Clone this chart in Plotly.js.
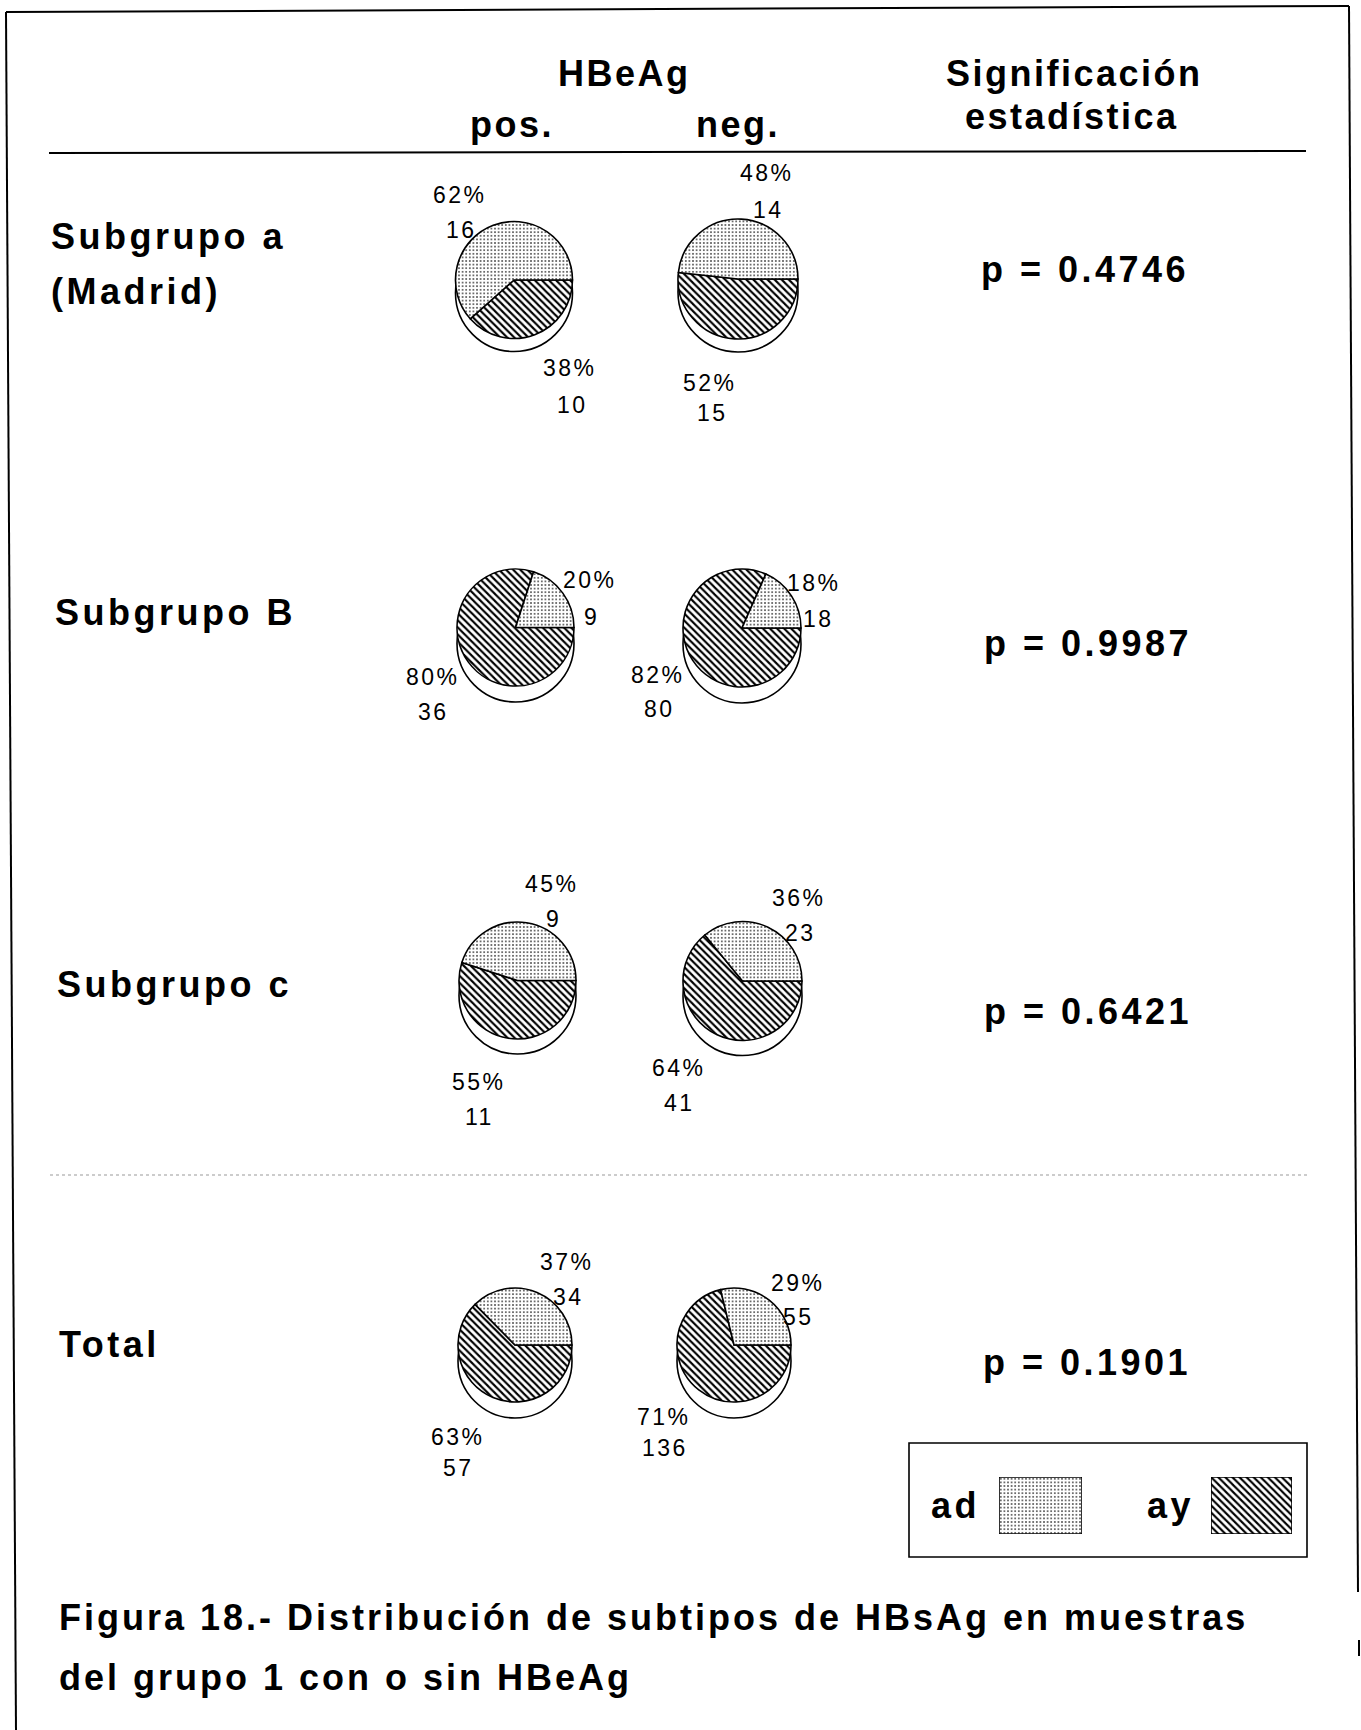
<!DOCTYPE html>
<html>
<head>
<meta charset="utf-8">
<script src="https://cdn.plot.ly/plotly-3.0.1.min.js"></script>
<style>
html,body{margin:0;padding:0;background:#fff;}
#chart{width:1361px;height:1730px;}
</style>
</head>
<body>
<div id="chart"></div>
<script>
// ---------------- DATA ----------------
const groups = ['Subgrupo a', 'Subgrupo B', 'Subgrupo c', 'Total'];
const groupSub = ['(Madrid)', '', '', ''];
const columns = ['pos.', 'neg.'];
const subtypes = ['ad', 'ay'];
const posAd = [16, 9, 9, 34];
const posAy = [10, 36, 11, 57];
const negAd = [14, 18, 23, 55];
const negAy = [15, 80, 41, 136];
const pValues = ['0.4746', '0.9987', '0.6421', '0.1901'];

// ---------------- GEOMETRY (layout only) ----------------
const W = 1361, H = 1730;
const px = x => x / W;
const py = y => 1 - y / H;

const pieGeo = [
  [{cx: 514, cy: 280, r: 58.5, d: 13}, {cx: 738, cy: 279, r: 60, d: 13}],
  [{cx: 515.5, cy: 627.5, r: 58.5, d: 16}, {cx: 742, cy: 628, r: 59, d: 16}],
  [{cx: 517.5, cy: 980.5, r: 58.5, d: 15}, {cx: 742.5, cy: 981, r: 59.5, d: 15}],
  [{cx: 515, cy: 1345, r: 57, d: 16}, {cx: 734, cy: 1345, r: 57, d: 16}]
];
// label positions: [pctX, pctY, cntX, cntY]
const labelGeo = [
  [{ad: [460, 195, 462, 230], ay: [570, 368, 572, 405]}, {ad: [767, 173, 768, 210], ay: [710, 383, 712, 413]}],
  [{ad: [590, 580, 591, 617], ay: [433, 677, 433, 712]}, {ad: [814, 583, 818, 619], ay: [658, 675, 659, 709]}],
  [{ad: [552, 884, 553, 919], ay: [479, 1082, 479, 1117]}, {ad: [799, 898, 800, 933], ay: [679, 1068, 679, 1103]}],
  [{ad: [567, 1262, 568, 1297], ay: [458, 1437, 458, 1468]}, {ad: [798, 1283, 798, 1317], ay: [664, 1417, 665, 1448]}]
];
const rowLabelGeo = [[49, 237, 291], [53, 613], [55, 984], [57, 1344]];
const pGeo = [[1085, 270], [1088, 644], [1088, 1011], [1087, 1362]];

const FONT = 'Liberation Sans, Arial, Helvetica, sans-serif';
const patAd = {shape: '.', fgcolor: '#3a3a3a', bgcolor: '#ffffff', size: 3.6, solidity: 0.2};
const patAy = {shape: '\\', fgcolor: '#000000', bgcolor: '#ffffff', size: 5, solidity: 0.42};

function ann(text, x, y, size, bold, xanchor, spacing) {
  return {
    xref: 'paper', yref: 'paper', x: px(x), y: py(y),
    xanchor: xanchor || 'center', yanchor: 'middle', showarrow: false,
    text: '<span style="letter-spacing:' + (spacing || 0) + 'px">' + text + '</span>',
    font: {family: FONT, size: size, color: '#000', weight: bold ? 'bold' : 'normal'}
  };
}

const traces = [];
const annotations = [];
const colData = [[posAd, posAy], [negAd, negAy]];

groups.forEach((g, gi) => {
  columns.forEach((c, ci) => {
    const geo = pieGeo[gi][ci];
    const ad = colData[ci][0][gi], ay = colData[ci][1][gi];
    // shadow (pie thickness)
    traces.push({
      type: 'pie', values: [1], labels: ['base'], sort: false,
      marker: {colors: ['#ffffff'], line: {color: '#000', width: 1.6}},
      textinfo: 'none', hoverinfo: 'skip', showlegend: false,
      domain: {x: [px(geo.cx - geo.r), px(geo.cx + geo.r)], y: [py(geo.cy + geo.d + geo.r), py(geo.cy + geo.d - geo.r)]}
    });
    // ay runs clockwise from 3 o'clock, ad fills the rest (counterclockwise from 3 o'clock)
    traces.push({
      type: 'pie', values: [ay, ad], labels: [subtypes[1], subtypes[0]], sort: false,
      direction: 'clockwise', rotation: 90,
      marker: {
        colors: ['#ffffff', '#ffffff'],
        line: {color: '#000', width: 1.6},
        pattern: {
          shape: [patAy.shape, patAd.shape],
          fgcolor: [patAy.fgcolor, patAd.fgcolor],
          bgcolor: [patAy.bgcolor, patAd.bgcolor],
          size: [patAy.size, patAd.size],
          solidity: [patAy.solidity, patAd.solidity]
        }
      },
      textinfo: 'none', hoverinfo: 'label+value+percent', showlegend: false,
      domain: {x: [px(geo.cx - geo.r), px(geo.cx + geo.r)], y: [py(geo.cy + geo.r), py(geo.cy - geo.r)]}
    });
    const tot = ad + ay;
    const pAd = Math.round(ad / tot * 100), pAy = Math.round(ay / tot * 100);
    const lg = labelGeo[gi][ci];
    annotations.push(ann(pAd + '%', lg.ad[0], lg.ad[1], 23, false, 'center', 2.5));
    annotations.push(ann(String(ad), lg.ad[2], lg.ad[3], 23, false, 'center', 2.5));
    annotations.push(ann(pAy + '%', lg.ay[0], lg.ay[1], 23, false, 'center', 2.5));
    annotations.push(ann(String(ay), lg.ay[2], lg.ay[3], 23, false, 'center', 2.5));
  });
  const rg = rowLabelGeo[gi];
  annotations.push(ann(g, rg[0], rg[1], 36, true, 'left', 3.5));
  if (groupSub[gi]) annotations.push(ann(groupSub[gi], rg[0], rg[2], 36, true, 'left', 3.5));
  annotations.push(ann('p = ' + pValues[gi], pGeo[gi][0], pGeo[gi][1], 36, true, 'center', 3.5));
});

// headers
annotations.push(ann('HBeAg', 624, 73, 36, true, 'center', 2.5));
annotations.push(ann(columns[0], 512, 125, 36, true, 'center', 2.5));
annotations.push(ann(columns[1], 738, 125, 36, true, 'center', 2.5));
annotations.push(ann('Significación', 1074, 73, 36, true, 'center', 2.5));
annotations.push(ann('estadística', 1072, 117, 36, true, 'center', 2.5));
// legend labels
annotations.push(ann(subtypes[0], 955, 1505, 36, true, 'center', 3.5));
annotations.push(ann(subtypes[1], 1170, 1505, 36, true, 'center', 3.5));
// caption
annotations.push(ann('Figura 18.- Distribución de subtipos de HBsAg en muestras', 57, 1617, 36, true, 'left', 3));
annotations.push(ann('del grupo 1 con o sin HBeAg', 57, 1677, 36, true, 'left', 3));

// legend swatches drawn as bars on hidden axes
traces.push({type: 'bar', x: [subtypes[0]], y: [1], xaxis: 'x', yaxis: 'y', showlegend: false, hoverinfo: 'skip',
  marker: {color: '#fff', line: {color: '#000', width: 1.6}, pattern: patAd}});
traces.push({type: 'bar', x: [subtypes[1]], y: [1], xaxis: 'x2', yaxis: 'y2', showlegend: false, hoverinfo: 'skip',
  marker: {color: '#fff', line: {color: '#000', width: 1.6}, pattern: patAy}});

const hiddenAx = {visible: false, showgrid: false, zeroline: false, fixedrange: true};

const line = (x0, y0, x1, y1, w, extra) => Object.assign({
  type: 'line', xref: 'paper', yref: 'paper', x0: px(x0), y0: py(y0), x1: px(x1), y1: py(y1),
  line: {color: '#000', width: w}
}, extra || {});

const shapes = [
  line(6, 12, 1349, 6, 2),          // top frame
  line(6, 12, 16, 1730, 2),         // left frame
  line(1349, 6, 1358, 1592, 2),     // right frame
  line(1359, 1640, 1359, 1656, 2),
  line(49, 153, 1306, 151, 2),      // header rule
  line(50, 1175, 1307, 1175, 1.2, {line: {color: '#999', width: 1.2, dash: 'dot'}}),
  {type: 'rect', xref: 'paper', yref: 'paper', x0: px(909), x1: px(1307), y0: py(1557), y1: py(1443),
   line: {color: '#000', width: 1.6}, fillcolor: 'rgba(0,0,0,0)'}
];

const layout = {
  width: W, height: H,
  margin: {l: 0, r: 0, t: 0, b: 0, pad: 0},
  paper_bgcolor: '#fff', plot_bgcolor: 'rgba(0,0,0,0)',
  showlegend: false, bargap: 0,
  xaxis: Object.assign({domain: [px(999), px(1082)], anchor: 'y', range: [-0.5, 0.5], type: 'category'}, hiddenAx),
  yaxis: Object.assign({domain: [py(1534), py(1477)], anchor: 'x', range: [0, 1]}, hiddenAx),
  xaxis2: Object.assign({domain: [px(1211), px(1292)], anchor: 'y2', range: [-0.5, 0.5], type: 'category'}, hiddenAx),
  yaxis2: Object.assign({domain: [py(1534), py(1477)], anchor: 'x2', range: [0, 1]}, hiddenAx),
  annotations: annotations,
  shapes: shapes
};

Plotly.newPlot('chart', traces, layout, {displayModeBar: false, staticPlot: true});
</script>
</body>
</html>
